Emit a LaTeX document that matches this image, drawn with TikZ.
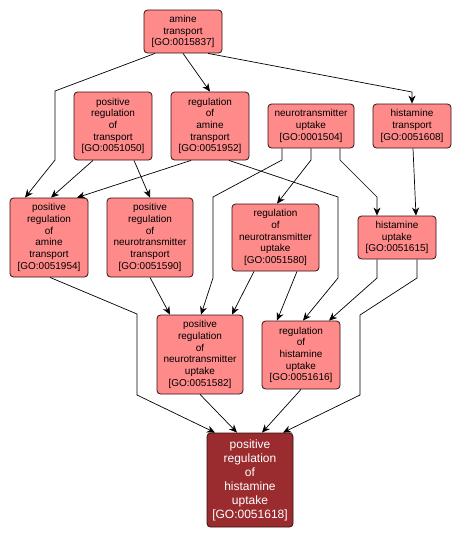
\documentclass[tikz,border=0pt]{standalone}
\usepackage{fontspec}
\setmainfont{Liberation Sans}
\usetikzlibrary{arrows.meta}
\definecolor{nodefill}{HTML}{FF8A8A}
\definecolor{focusfill}{HTML}{9A2B2E}
\definecolor{nodeedge}{HTML}{3A1010}
\tikzset{
  goterm/.style={draw=nodeedge, line width=0.8pt, fill=nodefill, rounded corners=3.5pt,
    inner sep=0pt, align=center, font=\fontsize{10}{11.7}\selectfont, text=black},
  focusterm/.style={goterm, fill=focusfill, text=white, font=\fontsize{12}{14}\selectfont},
  link/.style={draw=black, line width=0.7pt, -{Stealth[length=8pt,width=7pt,inset=2.5pt]}}
}
\begin{document}
\begin{tikzpicture}[x=1pt,y=-1pt]
\useasboundingbox[fill=white] (0,0) rectangle (462,539);
\node[goterm, minimum width=78pt, minimum height=43pt] (n15837) at (183,31.5) {amine\\transport\\{}[GO:0015837]};
\node[goterm, minimum width=78pt, minimum height=68pt] (n51050) at (113,126) {positive\\regulation\\of\\transport\\{}[GO:0051050]};
\node[goterm, minimum width=78pt, minimum height=68pt] (n51952) at (210,126) {regulation\\of\\amine\\transport\\{}[GO:0051952]};
\node[goterm, minimum width=86pt, minimum height=44pt] (n1504) at (311,126) {neurotransmitter\\uptake\\{}[GO:0001504]};
\node[goterm, minimum width=78pt, minimum height=44pt] (n51608) at (412,126) {histamine\\transport\\{}[GO:0051608]};
\node[goterm, minimum width=78pt, minimum height=79pt] (n51954) at (49,237.5) {positive\\regulation\\of\\amine\\transport\\{}[GO:0051954]};
\node[goterm, minimum width=86pt, minimum height=79pt] (n51590) at (150,237.5) {positive\\regulation\\of\\neurotransmitter\\transport\\{}[GO:0051590]};
\node[goterm, minimum width=87pt, minimum height=67pt] (n51580) at (275.5,237.5) {regulation\\of\\neurotransmitter\\uptake\\{}[GO:0051580]};
\node[goterm, minimum width=78pt, minimum height=43pt] (n51615) at (397,237.5) {histamine\\uptake\\{}[GO:0051615]};
\node[goterm, minimum width=86pt, minimum height=79pt] (n51582) at (200,354.5) {positive\\regulation\\of\\neurotransmitter\\uptake\\{}[GO:0051582]};
\node[goterm, minimum width=78pt, minimum height=68pt] (n51616) at (301,355) {regulation\\of\\histamine\\uptake\\{}[GO:0051616]};
\node[focusterm, minimum width=86pt, minimum height=94pt] (n51618) at (250,480) {positive\\regulation\\of\\histamine\\uptake\\{}[GO:0051618]};
% edges
\draw[link] (n15837.south -| 155,0) -- (55,91) -- (55,160) -- (n51954.north -| 25,0);
\draw[link] (n15837.south -| 183,0) -- (n51952.north -| 210,0);
\draw[link] (n15837.south -| 208,0) -- (412,92) -- (n51608.north -| 412,0);
\draw[link] (n51050.south -| 93,0) -- (n51954.north -| 51,0);
\draw[link] (n51050.south -| 134,0) -- (n51590.north -| 150,0);
\draw[link] (n51952.south -| 191,0) -- (n51954.north -| 77,0);
\draw[link] (n51952.south -| 229,0) -- (338,197) -- (338,278) -- (n51616.north -| 303,0);
\draw[link] (n1504.south -| 282,0) -- (282,160) -- (213,197) -- (213,278) -- (n51582.north -| 201,0);
\draw[link] (n1504.south -| 311,0) -- (311,160) -- (n51580.north -| 277,0);
\draw[link] (n1504.south -| 340,0) -- (340,160) -- (377,197) -- (n51615.north -| 377,0);
\draw[link] (n51608.south -| 413,0) -- (n51615.north -| 416,0);
\draw[link] (n51954.south -| 50,0) -- (137,314) -- (137,395) -- (n51618.north -| 215,0);
\draw[link] (n51590.south -| 150,0) -- (n51582.north -| 170,0);
\draw[link] (n51580.south -| 254,0) -- (n51582.north -| 232,0);
\draw[link] (n51580.south -| 297,0) -- (n51616.north -| 277,0);
\draw[link] (n51615.south -| 377,0) -- (377,278) -- (n51616.north -| 329,0);
\draw[link] (n51615.south -| 417,0) -- (417,278) -- (360,315) -- (360,395) -- (n51618.north -| 283,0);
\draw[link] (n51582.south -| 200,0) -- (n51618.north -| 237,0);
\draw[link] (n51616.south -| 301,0) -- (n51618.north -| 262,0);
\end{tikzpicture}
\end{document}
